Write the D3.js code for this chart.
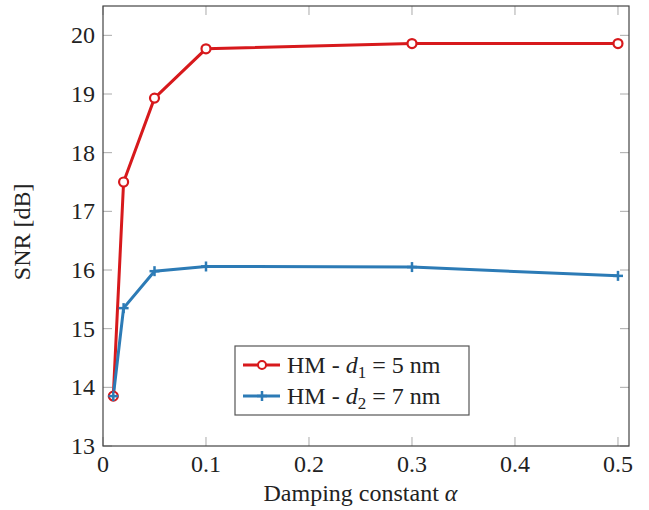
<!DOCTYPE html>
<html>
<head>
<meta charset="utf-8">
<script src="https://cdn.jsdelivr.net/npm/d3@7"></script>
<style>
  body { margin: 0; background: #fff; }
  svg text { font-family: "Liberation Serif", serif !important; }
</style>
</head>
<body>
<div id="chart"></div>
<script>
// data
var alphas = [0.01, 0.02, 0.05, 0.1, 0.3, 0.5];
var snrD1 = [13.85, 17.5, 18.93, 19.77, 19.86, 19.86];
var snrD2 = [13.85, 15.35, 15.98, 16.06, 16.05, 15.9];
var xTicks = [0, 0.1, 0.2, 0.3, 0.4, 0.5];
var yTicks = [13, 14, 15, 16, 17, 18, 19, 20];

var dims = {
	width: 649,
	height: 510,
	margin: { top: 6, right: 20, bottom: 64, left: 103 }
};
dims.boundedWidth = dims.width - dims.margin.left - dims.margin.right;
dims.boundedHeight = dims.height - dims.margin.top - dims.margin.bottom;

var red = "#d7191c", blue = "#2c7bb6";

// all text goes through here
function txt(sel) {
	return sel.append("text")
		.attr("style", "font-family: 'Liberation Serif', serif !important; font-size: 24px; fill: #222;");
}

var svg = d3.select("#chart").append("svg")
	.attr("width", dims.width)
	.attr("height", dims.height);

var g = svg.append("g")
	.attr("transform", `translate(${dims.margin.left},${dims.margin.top})`);

var xScale = d3.scaleLinear().domain([0, 0.5107]).range([0, dims.boundedWidth]);
var yScale = d3.scaleLinear().domain([13, 20.5]).range([dims.boundedHeight, 0]);

// ticks pointing inward, mirrored on top and right
var tickLen = 9;
var tickStroke = "#aaa";
g.selectAll(".xt").data(xTicks).enter().append("g").each(function (d) {
	var x = xScale(d);
	var s = d3.select(this);
	s.append("line").attr("x1", x).attr("x2", x)
		.attr("y1", dims.boundedHeight).attr("y2", dims.boundedHeight - tickLen)
		.attr("stroke", tickStroke);
	s.append("line").attr("x1", x).attr("x2", x)
		.attr("y1", 0).attr("y2", tickLen)
		.attr("stroke", tickStroke);
});
g.selectAll(".yt").data(yTicks).enter().append("g").each(function (d) {
	var y = yScale(d);
	var s = d3.select(this);
	s.append("line").attr("x1", 0).attr("x2", tickLen)
		.attr("y1", y).attr("y2", y).attr("stroke", tickStroke);
	s.append("line").attr("x1", dims.boundedWidth).attr("x2", dims.boundedWidth - tickLen)
		.attr("y1", y).attr("y2", y).attr("stroke", tickStroke);
});

// tick labels
xTicks.forEach(function (d) {
	txt(svg).attr("x", dims.margin.left + xScale(d))
		.attr("y", dims.margin.top + dims.boundedHeight + 26)
		.attr("text-anchor", "middle").text(d);
});
yTicks.forEach(function (d) {
	txt(svg).attr("x", dims.margin.left - 8)
		.attr("y", dims.margin.top + yScale(d) + 8)
		.attr("text-anchor", "end").text(d);
});

// frame
g.append("rect")
	.attr("width", dims.boundedWidth).attr("height", dims.boundedHeight)
	.attr("fill", "none").attr("stroke", "#444").attr("stroke-width", 1.2);

var line = d3.line()
	.x(d => xScale(d[0]))
	.y(d => yScale(d[1]));

var s1 = alphas.map((a, i) => [a, snrD1[i]]);
var s2 = alphas.map((a, i) => [a, snrD2[i]]);

g.append("path").datum(s1).attr("d", line)
	.attr("fill", "none").attr("stroke", red).attr("stroke-width", 3);
g.append("path").datum(s2).attr("d", line)
	.attr("fill", "none").attr("stroke", blue).attr("stroke-width", 3);

function plusMark(sel, color) {
	sel.append("line").attr("x1", -5).attr("x2", 5).attr("y1", 0).attr("y2", 0)
		.attr("stroke", color).attr("stroke-width", 2.5);
	sel.append("line").attr("x1", 0).attr("x2", 0).attr("y1", -5).attr("y2", 5)
		.attr("stroke", color).attr("stroke-width", 2.5);
}

g.selectAll(".m1").data(s1).enter().append("circle")
	.attr("cx", d => xScale(d[0])).attr("cy", d => yScale(d[1]))
	.attr("r", 4.5).attr("fill", "#fff").attr("stroke", red).attr("stroke-width", 2.2);
g.selectAll(".m2").data(s2).enter().append("g")
	.attr("transform", d => `translate(${xScale(d[0])},${yScale(d[1])})`)
	.each(function () { plusMark(d3.select(this), blue); });

// legend
var lg = svg.append("g").attr("transform", "translate(235,346)");
lg.append("rect").attr("width", 234).attr("height", 69)
	.attr("fill", "#fff").attr("stroke", "#555").attr("stroke-width", 1.2);
var entries = [
	{ color: red, sub: "1", num: "5", mark: "o" },
	{ color: blue, sub: "2", num: "7", mark: "+" }
];
entries.forEach(function (e, i) {
	var y = 19 + i * 31;
	lg.append("line").attr("x1", 8).attr("x2", 45).attr("y1", y).attr("y2", y)
		.attr("stroke", e.color).attr("stroke-width", 3);
	if (e.mark === "o") {
		lg.append("circle").attr("cx", 27).attr("cy", y).attr("r", 4)
			.attr("fill", "#fff").attr("stroke", e.color).attr("stroke-width", 2);
	} else {
		plusMark(lg.append("g").attr("transform", `translate(27,${y})`), e.color);
	}
	var t = txt(lg).attr("x", 52).attr("y", y + 8);
	t.append("tspan").text("HM - ");
	t.append("tspan").attr("font-style", "italic").text("d");
	t.append("tspan").attr("dy", 5).attr("style", "font-size: 17px").text(e.sub);
	t.append("tspan").attr("dy", -5).text(" = " + e.num + " nm");
});

// axis labels
var xl = txt(svg)
	.attr("x", dims.margin.left + xScale(0.25)).attr("y", 501)
	.attr("text-anchor", "middle");
xl.append("tspan").text("Damping constant ");
xl.append("tspan").attr("font-style", "italic").text("α");
txt(svg)
	.attr("transform", `translate(30,${dims.margin.top + yScale(16.65)}) rotate(-90)`)
	.attr("text-anchor", "middle")
	.text("SNR [dB]");
</script>
</body>
</html>
